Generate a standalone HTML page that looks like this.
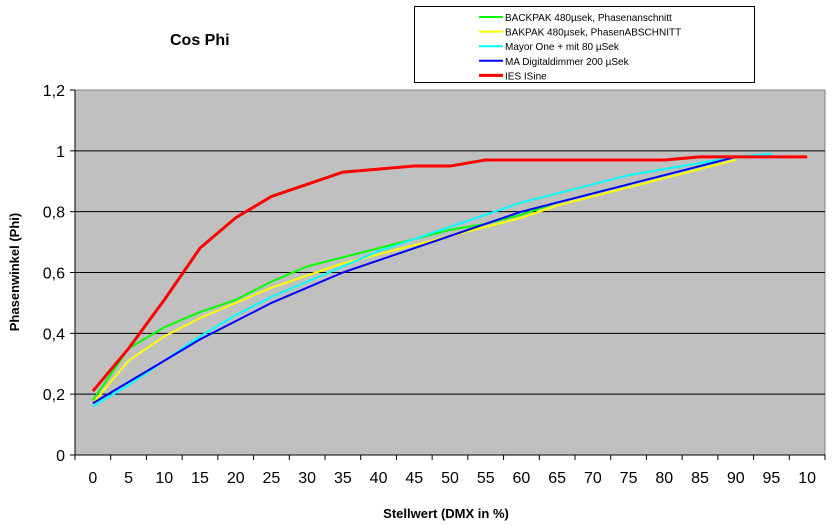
<!DOCTYPE html>
<html><head><meta charset="utf-8"><style>
body{margin:0;background:#fff;font-family:"Liberation Sans",Arial,sans-serif}
svg{display:block}
</style></head><body>
<svg id="c" width="837" height="526" font-family="Liberation Sans, Arial, sans-serif">
<text x="170" y="45" font-size="16" font-weight="bold">Cos Phi</text>
<text x="446" y="518" font-size="13" font-weight="bold" text-anchor="middle">Stellwert (DMX in %)</text>
<text transform="translate(19,272) rotate(-90)" font-size="13" font-weight="bold" text-anchor="middle">Phasenwinkel (Phi)</text>
<rect x="75" y="90" width="750" height="365" fill="#c0c0c0" stroke="#808080"/>
<g id="grid"></g><g id="axes"></g><g id="series"></g>
<g>
<rect x="414.5" y="6.5" width="340" height="76" fill="#fff" stroke="#000"/>
</g>
<g id="legend"></g>
</svg>
<script>
const categories=["0","5","10","15","20","25","30","35","40","45","50","55","60","65","70","75","80","85","90","95","10"];
const yTicks=[0,0.2,0.4,0.6,0.8,1,1.2];
const yTickLabels=["0","0,2","0,4","0,6","0,8","1","1,2"];
const seriesNames=["BACKPAK 480µsek, Phasenanschnitt","BAKPAK 480µsek, PhasenABSCHNITT","Mayor One + mit 80 µSek","MA Digitaldimmer 200 µSek","IES ISine"];
const seriesColors=["#00ff00","#ffff00","#00ffff","#0000ff","#ff0000"];
const green=[0.18,0.35,0.42,0.47,0.51,0.57,0.62,0.65,0.68,0.71,0.74,0.76,0.79,0.83,0.86,0.89,0.92,0.95,0.98];
const yellow=[0.17,0.31,0.39,0.45,0.50,0.55,0.59,0.63,0.66,0.69,0.72,0.75,0.78,0.82,0.85,0.88,0.91,0.94,0.97];
const cyan=[0.16,0.23,0.31,0.39,0.46,0.52,0.57,0.62,0.67,0.71,0.75,0.79,0.83,0.86,0.89,0.92,0.94,0.96,0.98,0.99];
const blue=[0.17,0.24,0.31,0.38,0.44,0.50,0.55,0.60,0.64,0.68,0.72,0.76,0.80,0.83,0.86,0.89,0.92,0.95,0.98];
const red=[0.21,0.35,0.51,0.68,0.78,0.85,0.89,0.93,0.94,0.95,0.95,0.97,0.97,0.97,0.97,0.97,0.97,0.98,0.98,0.98,0.98];
const allSeries=[green,yellow,cyan,blue,red];
const NS="http://www.w3.org/2000/svg";
const L=75,R=825,T=90,B=455,yMax=1.2;
const step=(R-L)/categories.length;
const xs=i=>L+step*(i+0.5);
const ys=v=>B-(v/yMax)*(B-T);
function mk(tag,attrs,parent){const e=document.createElementNS(NS,tag);for(const k in attrs)e.setAttribute(k,attrs[k]);parent.appendChild(e);return e;}
const grid=document.getElementById('grid'),axes=document.getElementById('axes'),ser=document.getElementById('series'),leg=document.getElementById('legend');
yTicks.forEach((v,i)=>{
 if(v>0&&v<yMax){const g=mk('line',{x1:L,x2:R,y1:ys(v),y2:ys(v),stroke:'#000'},grid);
 
 }
 const tk=mk('line',{x1:L-5,x2:L,y1:ys(v),y2:ys(v),stroke:'#000'},axes);
 
 
 const t=mk('text',{x:L-10,y:ys(v)+6,'font-size':16,'text-anchor':'end'},axes);t.textContent=yTickLabels[i];
 
 
});
mk('line',{x1:L,x2:L,y1:T,y2:B+5,stroke:'#000'},axes);
mk('line',{x1:L,x2:R,y1:B,y2:B,stroke:'#000'},axes);
categories.forEach((c,i)=>{
 const tk=mk('line',{x1:L+step*(i+1),x2:L+step*(i+1),y1:B,y2:B+5,stroke:'#000'},axes);
 
 
 const t=mk('text',{x:xs(i),y:B+28,'font-size':16,'text-anchor':'middle'},axes);t.textContent=c;
 
 
});
allSeries.forEach((d,s)=>{
 const p=mk('polyline',{points:d.map((v,i)=>xs(i)+','+ys(v)).join(' '),fill:'none',stroke:seriesColors[s],'stroke-width':s==4?3:2,'stroke-linejoin':'round'},ser);
 
 
 const y=17+s*14.6;
 const ln=mk('line',{x1:479,x2:503,y1:y,y2:y,stroke:seriesColors[s],'stroke-width':s==4?3:2},leg);
 
 
 const t=mk('text',{x:505,y:y+4,'font-size':10},leg);t.textContent=seriesNames[s];
 
 
});
</script>
</body></html>
